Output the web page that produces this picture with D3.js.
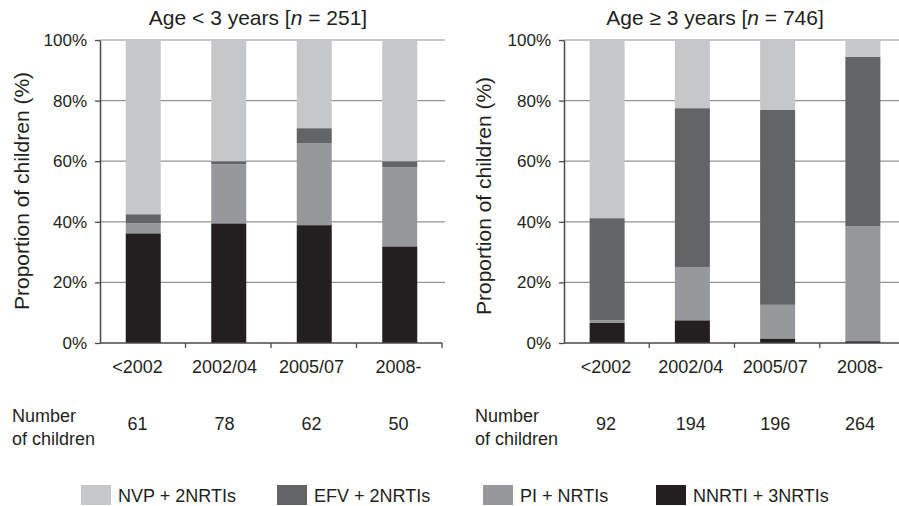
<!DOCTYPE html>
<html>
<head>
<meta charset="utf-8">
<script src="https://cdn.jsdelivr.net/npm/d3@7"></script>
<style>
  html, body { margin: 0; padding: 0; background: #fff; }
  svg { display: block; font-family: "Liberation Sans", Arial, Helvetica, sans-serif; }
</style>
</head>
<body>
<svg id="chart" width="899" height="506"></svg>
<script>
// ---- Data ----
const categories = ["<2002", "2002/04", "2005/07", "2008-"];
const regimens = ["NNRTI + 3NRTIs", "PI + NRTIs", "EFV + 2NRTIs", "NVP + 2NRTIs"]; // bottom -> top
const legendOrder = ["NVP + 2NRTIs", "EFV + 2NRTIs", "PI + NRTIs", "NNRTI + 3NRTIs"];

const youngNNRTI = [36.2, 39.5, 38.9, 31.9];
const youngPI    = [3.3, 19.5, 27.1, 26.1];
const youngEFV   = [3.0, 1.0, 4.9, 2.0];
const youngNVP   = [57.5, 40.0, 29.1, 40.0];
const youngCounts = [61, 78, 62, 50];

const olderNNRTI = [6.6, 7.5, 1.5, 0.6];
const olderPI    = [0.9, 17.6, 11.1, 37.9];
const olderEFV   = [33.7, 52.4, 64.3, 55.9];
const olderNVP   = [58.8, 22.5, 23.1, 5.6];
const olderCounts = [92, 194, 196, 264];

const yTicks = [0, 20, 40, 60, 80, 100];
const yAxisTitle = "Proportion of children (%)";
const countLabel = ["Number", "of children"];

// ---- Styles ----
const colors = {
  "NVP + 2NRTIs": "#c6c7c9",
  "EFV + 2NRTIs": "#636466",
  "PI + NRTIs": "#97989b",
  "NNRTI + 3NRTIs": "#231f20"
};
const textColor = "#231f20";
const axisColor = "#4a4a4a";
const gridColor = "#939393";
const barWidth = 35;

function buildRows(nnrti, pi, efv, nvp) {
  return categories.map((c, i) => ({
    cat: c,
    "NNRTI + 3NRTIs": nnrti[i],
    "PI + NRTIs": pi[i],
    "EFV + 2NRTIs": efv[i],
    "NVP + 2NRTIs": nvp[i]
  }));
}

const panels = [
  {
    rows: buildRows(youngNNRTI, youngPI, youngEFV, youngNVP),
    counts: youngCounts,
    titleParts: ["Age < 3 years [", "n", " = 251]"],
    x0: 100, x1: 442, titleX: 258, yTitleX: 29, yTitleY: 191, numberX: 12,
    labelRange: [137.5, 398.5]
  },
  {
    rows: buildRows(olderNNRTI, olderPI, olderEFV, olderNVP),
    counts: olderCounts,
    titleParts: ["Age \u2265 3 years [", "n", " = 746]"],
    x0: 564, x1: 905, titleX: 715, yTitleX: 491, yTitleY: 196, numberX: 475,
    labelRange: [606, 860]
  }
];

const svg = d3.select("#chart");
const yTop = 40, yBottom = 343;
const y = d3.scaleLinear().domain([0, 100]).range([yBottom, yTop]);
const stack = d3.stack().keys(regimens);

panels.forEach(p => {
  const g = svg.append("g");
  const x = d3.scaleBand().domain(categories).range([p.x0, p.x1]).padding(0);
  const barX = c => x(c) + (x.bandwidth() - barWidth) / 2 + 0.5;
  const lx = d3.scalePoint().domain(categories).range(p.labelRange);

  // gridlines
  g.append("g").selectAll("line")
    .data(yTicks.filter(t => t > 0))
    .join("line")
    .attr("x1", p.x0).attr("x2", p.x1 + 3)
    .attr("y1", d => y(d)).attr("y2", d => y(d))
    .attr("stroke", gridColor).attr("stroke-width", 1.2);

  // bars
  const series = stack(p.rows);
  g.append("g").selectAll("g")
    .data(series)
    .join("g")
    .attr("fill", d => colors[d.key])
    .selectAll("rect")
    .data(d => d)
    .join("rect")
    .attr("x", d => barX(d.data.cat))
    .attr("width", barWidth)
    .attr("y", d => y(d[1]))
    .attr("height", d => y(d[0]) - y(d[1]));

  // y axis
  const yAxis = g.append("g")
    .attr("transform", `translate(${p.x0},0)`)
    .call(d3.axisLeft(y).tickValues(yTicks).tickSize(5).tickSizeOuter(0).tickPadding(8)
      .tickFormat(d => d + "%"));
  yAxis.select(".domain").attr("stroke", axisColor).attr("stroke-width", 1.5);
  yAxis.selectAll(".tick line").attr("stroke", axisColor).attr("stroke-width", 1.3);
  yAxis.selectAll(".tick text")
    .attr("fill", textColor).attr("font-size", 17)
    .attr("font-family", "'Liberation Sans', Arial, sans-serif");

  // x axis line and boundary ticks
  g.append("line")
    .attr("x1", p.x0).attr("x2", p.x1)
    .attr("y1", y(0)).attr("y2", y(0))
    .attr("stroke", axisColor).attr("stroke-width", 1.5);
  const bounds = categories.slice(1).map(c => x(c)).concat([p.x1]);
  g.append("g").selectAll("line")
    .data(bounds)
    .join("line")
    .attr("x1", d => d).attr("x2", d => d)
    .attr("y1", y(0)).attr("y2", y(0) + 5)
    .attr("stroke", axisColor).attr("stroke-width", 1.3);

  // category labels
  g.append("g").selectAll("text")
    .data(categories)
    .join("text")
    .attr("x", d => lx(d))
    .attr("y", 373)
    .attr("text-anchor", "middle")
    .attr("font-size", 18)
    .attr("fill", textColor)
    .text(d => d);

  // counts
  g.append("g").selectAll("text")
    .data(p.counts)
    .join("text")
    .attr("x", (d, i) => lx(categories[i]))
    .attr("y", 430)
    .attr("text-anchor", "middle")
    .attr("font-size", 18)
    .attr("fill", textColor)
    .text(d => d);

  g.append("text").attr("x", p.numberX).attr("y", 422)
    .attr("font-size", 18).attr("fill", textColor).text(countLabel[0]);
  g.append("text").attr("x", p.numberX).attr("y", 445)
    .attr("font-size", 18).attr("fill", textColor).text(countLabel[1]);

  // title
  const t = g.append("text")
    .attr("x", p.titleX).attr("y", 25)
    .attr("text-anchor", "middle")
    .attr("font-size", 21)
    .attr("fill", textColor);
  t.append("tspan").text(p.titleParts[0]);
  t.append("tspan").attr("font-style", "italic").text(p.titleParts[1]);
  t.append("tspan").text(p.titleParts[2]);

  // y title
  g.append("text")
    .attr("transform", `translate(${p.yTitleX},${p.yTitleY}) rotate(-90)`)
    .attr("text-anchor", "middle")
    .attr("font-size", 21)
    .attr("fill", textColor)
    .text(yAxisTitle);
});

// legend
const legendX = [81, 277, 483, 656];
const lg = svg.append("g");
legendOrder.forEach((k, i) => {
  const item = lg.append("g").attr("transform", `translate(${legendX[i]},485)`);
  item.append("rect").attr("width", 30).attr("height", 20).attr("fill", colors[k]);
  item.append("text").attr("x", 37).attr("y", 17)
    .attr("font-size", 18).attr("fill", textColor).text(k);
});
</script>
</body>
</html>
